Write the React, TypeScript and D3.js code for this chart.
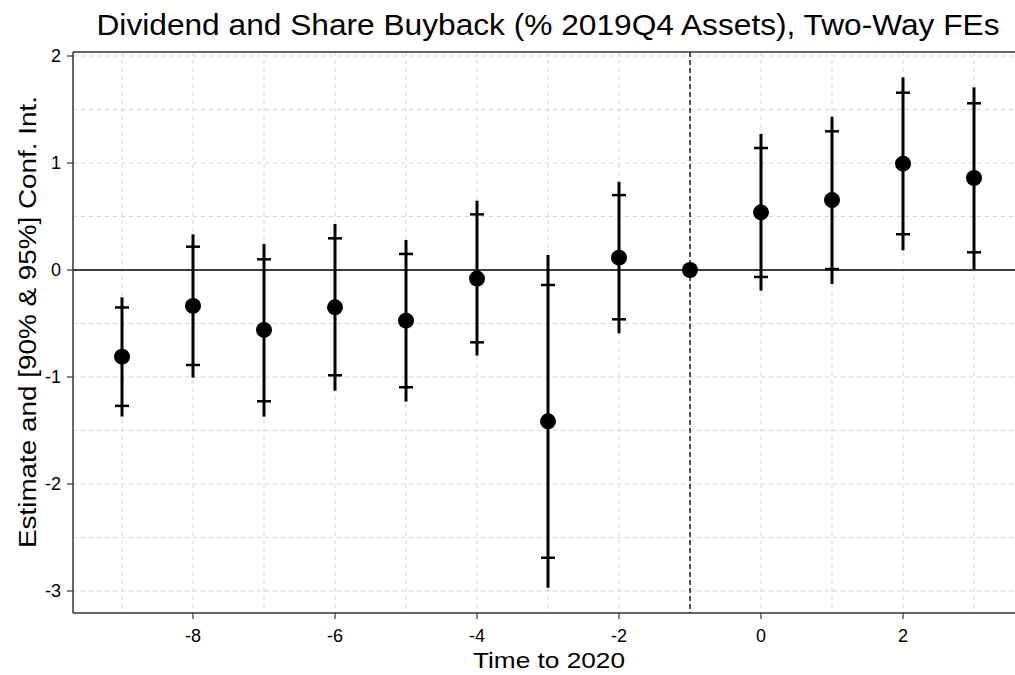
import React from "react";
import * as d3 from "d3";

const periods = [-9, -8, -7, -6, -5, -4, -3, -2, -1, 0, 1, 2, 3];
const estimate = [-0.81, -0.336, -0.56, -0.349, -0.474, -0.08, -1.414, 0.115, 0, 0.539, 0.654, 0.994, 0.86];
const lo95 = [-1.37, -1.006, -1.37, -1.128, -1.23, -0.8, -2.969, -0.592, 0, -0.193, -0.131, 0.184, 0.006];
const hi95 = [-0.255, 0.333, 0.243, 0.43, 0.28, 0.648, 0.14, 0.825, 0, 1.271, 1.433, 1.8, 1.707];
const lo90 = [-1.27, -0.888, -1.227, -0.984, -1.096, -0.676, -2.689, -0.461, 0, -0.065, 0.009, 0.334, 0.165];
const hi90 = [-0.35, 0.218, 0.1, 0.296, 0.15, 0.52, -0.14, 0.7, 0, 1.14, 1.296, 1.657, 1.558];

const xTicks = [-8, -6, -4, -2, 0, 2];
const yTicks = [-3, -2, -1, 0, 1, 2];
const yGrid = d3.range(-3, 2.01, 0.5);
const xGrid = d3.range(-9, 3.01, 1);

const title = "Dividend and Share Buyback (% 2019Q4 Assets), Two-Way FEs";
const xTitle = "Time to 2020";
const yTitle = "Estimate and [90% & 95%] Conf. Int.";
const eventLine = -1;

const W = 1015;
const H = 675;

export default function App() {
  const x = d3.scaleLinear().domain([-9, 3]).range([122, 974]);
  const y = d3.scaleLinear().domain([-3, 2]).range([591, 56]);
  const left = 73;
  const right = 1015;
  const top = 52;
  const bottom = 613;
  const font = "'Liberation Sans', Arial, sans-serif";

  return (
    <div style={{ position: "fixed", left: 0, top: 0 }}>
      <svg width={W} height={H} style={{ display: "block", background: "#fff" }}>
        <rect x={0} y={0} width={W} height={H} fill="#fff" />
        {/* grid */}
        {yGrid.map((v) => (
          <line key={"gy" + v} x1={left} x2={right} y1={y(v)} y2={y(v)} stroke="#d4d4d4" strokeWidth={1} strokeDasharray="4,4" />
        ))}
        {xGrid.map((v) => (
          <line key={"gx" + v} x1={x(v)} x2={x(v)} y1={top} y2={bottom} stroke="#d4d4d4" strokeWidth={1} strokeDasharray="4,4" />
        ))}
        {/* zero line */}
        <line x1={left} x2={right} y1={y(0)} y2={y(0)} stroke="#000" strokeWidth={1.5} />
        {/* event line */}
        <line x1={x(eventLine)} x2={x(eventLine)} y1={top} y2={bottom} stroke="#000" strokeWidth={1.3} strokeDasharray="5,3" />
        {/* frame */}
        <line x1={left} x2={right} y1={top} y2={top} stroke="#333" strokeWidth={1.5} />
        <line x1={left} x2={left} y1={top} y2={bottom} stroke="#333" strokeWidth={1.5} />
        <line x1={left} x2={right} y1={bottom} y2={bottom} stroke="#333" strokeWidth={1.5} />
        {/* y ticks */}
        {yTicks.map((v) => (
          <g key={"yt" + v}>
            <line x1={left - 6} x2={left} y1={y(v)} y2={y(v)} stroke="#333" strokeWidth={1.2} />
            <text x={left - 12} y={y(v)} dy="0.36em" textAnchor="end" fontFamily={font} fontSize={18} fill="#000">
              {v}
            </text>
          </g>
        ))}
        {/* x ticks */}
        {xTicks.map((v) => (
          <g key={"xt" + v}>
            <line x1={x(v)} x2={x(v)} y1={bottom} y2={bottom + 6} stroke="#333" strokeWidth={1.2} />
            <text x={x(v)} y={642} textAnchor="middle" fontFamily={font} fontSize={18} fill="#000">
              {v}
            </text>
          </g>
        ))}
        {/* error bars */}
        {periods.map((p, i) =>
          lo95[i] === hi95[i] ? null : (
            <g key={"eb" + p}>
              <line x1={x(p)} x2={x(p)} y1={y(lo95[i])} y2={y(hi95[i])} stroke="#000" strokeWidth={3} />
              <line x1={x(p) - 7} x2={x(p) + 7} y1={y(lo90[i])} y2={y(lo90[i])} stroke="#000" strokeWidth={2.5} />
              <line x1={x(p) - 7} x2={x(p) + 7} y1={y(hi90[i])} y2={y(hi90[i])} stroke="#000" strokeWidth={2.5} />
            </g>
          )
        )}
        {/* points */}
        {periods.map((p, i) => (
          <circle key={"pt" + p} cx={x(p)} cy={y(estimate[i])} r={8} fill="#000" />
        ))}
        {/* titles */}
        <text x={548} y={35} textAnchor="middle" fontFamily={font} fontSize={29} fill="#000" textLength={903} lengthAdjust="spacingAndGlyphs">
          {title}
        </text>
        <text x={549} y={668} textAnchor="middle" fontFamily={font} fontSize={22} fill="#000" textLength={152} lengthAdjust="spacingAndGlyphs">
          {xTitle}
        </text>
        <text
          transform={`translate(36, ${322}) rotate(-90)`}
          textAnchor="middle"
          fontFamily={font}
          fontSize={23}
          fill="#000"
          textLength={452}
          lengthAdjust="spacingAndGlyphs"
        >
          {yTitle}
        </text>
      </svg>
    </div>
  );
}
